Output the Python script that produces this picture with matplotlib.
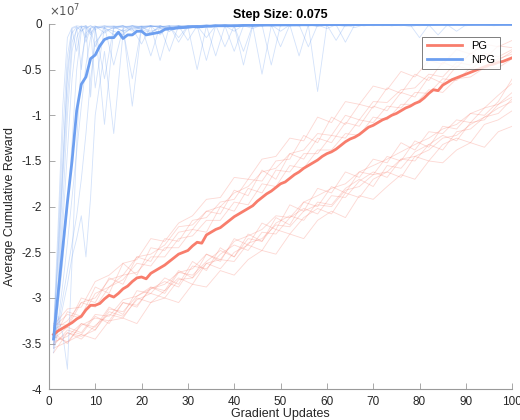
import numpy as np
from matplotlib import pyplot as plt
from matplotlib.ticker import FuncFormatter

plt.rcParams['font.family'] = ['Liberation Sans', 'DejaVu Sans']

# rewards in units of 1e7
updates = np.arange(1, 101)
pg_mean = [-3.40, -3.36, -3.33, -3.30, -3.27, -3.23, -3.20, -3.13, -3.08, -3.08,
           -3.06, -3.01, -2.97, -2.99, -2.95, -2.90, -2.87, -2.82, -2.78, -2.77,
           -2.79, -2.73, -2.70, -2.67, -2.64, -2.60, -2.56, -2.52, -2.50, -2.48,
           -2.43, -2.39, -2.40, -2.31, -2.28, -2.25, -2.23, -2.19, -2.15, -2.11,
           -2.08, -2.05, -2.02, -1.99, -1.94, -1.90, -1.86, -1.83, -1.79, -1.75,
           -1.73, -1.69, -1.65, -1.62, -1.58, -1.55, -1.52, -1.49, -1.45, -1.42,
           -1.40, -1.37, -1.33, -1.29, -1.26, -1.24, -1.21, -1.17, -1.13, -1.11,
           -1.08, -1.05, -1.03, -1.00, -0.98, -0.95, -0.92, -0.90, -0.87, -0.85,
           -0.81, -0.76, -0.72, -0.73, -0.67, -0.64, -0.61, -0.59, -0.57, -0.55,
           -0.53, -0.51, -0.49, -0.47, -0.45, -0.44, -0.42, -0.41, -0.39, -0.37]
npg_mean = [-3.45, -2.95, -2.45, -1.95, -1.50, -0.95, -0.66, -0.58, -0.38, -0.34,
            -0.24, -0.17, -0.15, -0.15, -0.09, -0.16, -0.12, -0.12, -0.08, -0.08,
            -0.12, -0.11, -0.10, -0.09, -0.06, -0.05, -0.05, -0.04, -0.04, -0.035,
            -0.03, -0.03, -0.03, -0.025, -0.025, -0.02, -0.02, -0.02, -0.02, -0.02,
            -0.018, -0.016, -0.015, -0.015, -0.014, -0.013, -0.012, -0.012, -0.011, -0.01,
            -0.01, -0.01, -0.01, -0.009, -0.009, -0.009, -0.008, -0.008, -0.008, -0.008,
            -0.007, -0.007, -0.007, -0.007, -0.006, -0.006, -0.006, -0.006, -0.005, -0.005,
            -0.005, -0.005, -0.005, -0.005, -0.005, -0.004, -0.004, -0.004, -0.004, -0.004,
            -0.004, -0.004, -0.004, -0.004, -0.003, -0.003, -0.003, -0.003, -0.003, -0.003,
            -0.003, -0.003, -0.003, -0.003, -0.003, -0.003, -0.003, -0.003, -0.003, -0.003]

# individual PG runs, recorded every 3 updates
pg_x = np.arange(1, 101, 3)
pg_runs = [
    [-3.30, -3.12, -3.10, -2.82, -2.75, -2.62, -2.58, -2.35, -2.38, -2.18, -2.10, -1.92, -1.90, -1.68, -1.70, -1.48, -1.45,
     -1.25, -1.28, -1.02, -1.08, -0.85, -0.88, -0.68, -0.72, -0.52, -0.58, -0.40, -0.44, -0.28, -0.33, -0.22, -0.25, -0.18],
    [-3.35, -3.25, -3.05, -3.00, -2.80, -2.75, -2.55, -2.60, -2.35, -2.38, -2.15, -2.12, -1.95, -1.92, -1.70, -1.72, -1.50,
     -1.48, -1.22, -1.30, -1.02, -1.10, -0.88, -0.92, -0.70, -0.76, -0.55, -0.62, -0.42, -0.48, -0.32, -0.38, -0.24, -0.26],
    [-3.28, -3.30, -3.00, -3.05, -2.78, -2.85, -2.55, -2.52, -2.42, -2.22, -2.20, -2.05, -2.00, -1.85, -1.78, -1.62, -1.58,
     -1.42, -1.38, -1.20, -1.22, -1.00, -1.05, -0.85, -0.86, -0.72, -0.70, -0.55, -0.58, -0.42, -0.45, -0.32, -0.36, -0.28],
    [-3.45, -3.15, -3.20, -2.88, -2.95, -2.62, -2.75, -2.45, -2.48, -2.28, -2.25, -2.05, -2.08, -1.82, -1.88, -1.60, -1.70,
     -1.42, -1.48, -1.25, -1.30, -1.08, -1.12, -0.90, -0.95, -0.75, -0.80, -0.58, -0.65, -0.46, -0.50, -0.38, -0.40, -0.30],
    [-3.38, -3.32, -3.05, -3.10, -2.88, -2.80, -2.62, -2.65, -2.45, -2.45, -2.25, -2.28, -2.00, -2.05, -1.80, -1.85, -1.60,
     -1.62, -1.42, -1.42, -1.22, -1.25, -1.05, -1.08, -0.90, -0.92, -0.75, -0.76, -0.60, -0.62, -0.48, -0.50, -0.38, -0.33],
    [-3.32, -3.18, -3.22, -2.95, -2.88, -2.75, -2.72, -2.55, -2.55, -2.35, -2.32, -2.15, -2.15, -1.95, -1.98, -1.75, -1.78,
     -1.55, -1.58, -1.38, -1.38, -1.20, -1.22, -1.02, -1.05, -0.88, -0.88, -0.72, -0.75, -0.60, -0.58, -0.48, -0.48, -0.38],
    [-3.55, -3.48, -3.40, -3.45, -3.25, -3.22, -3.28, -3.05, -3.00, -3.05, -2.85, -2.88, -2.70, -2.75, -2.58, -2.48, -2.52,
     -2.30, -2.35, -2.15, -2.05, -2.12, -1.88, -1.92, -1.78, -1.65, -1.70, -1.50, -1.52, -1.38, -1.30, -1.35, -1.18, -1.12],
    [-3.50, -3.38, -3.45, -3.30, -3.18, -3.22, -3.00, -3.05, -2.92, -2.78, -2.85, -2.62, -2.68, -2.50, -2.42, -2.48, -2.25,
     -2.30, -2.12, -2.02, -2.08, -1.85, -1.90, -1.70, -1.62, -1.68, -1.45, -1.50, -1.32, -1.25, -1.30, -1.10, -1.05, -0.95],
    [-3.48, -3.42, -3.28, -3.35, -3.12, -3.15, -2.98, -2.88, -2.95, -2.72, -2.75, -2.60, -2.48, -2.55, -2.35, -2.38, -2.18,
     -2.10, -2.15, -1.95, -1.98, -1.80, -1.70, -1.78, -1.55, -1.58, -1.40, -1.32, -1.38, -1.18, -1.15, -1.02, -0.92, -0.85],
    [-3.42, -3.48, -3.30, -3.22, -3.25, -3.05, -3.08, -2.90, -2.82, -2.88, -2.65, -2.68, -2.52, -2.42, -2.48, -2.28, -2.30,
     -2.12, -2.02, -2.08, -1.88, -1.90, -1.72, -1.62, -1.68, -1.48, -1.50, -1.32, -1.22, -1.28, -1.08, -1.05, -0.88, -0.75],
    [-3.60, -3.38, -3.42, -3.35, -3.15, -3.20, -3.02, -2.95, -3.00, -2.80, -2.78, -2.62, -2.58, -2.60, -2.40, -2.35, -2.20,
     -2.22, -2.05, -1.98, -2.00, -1.82, -1.78, -1.65, -1.62, -1.48, -1.45, -1.38, -1.25, -1.22, -1.10, -1.02, -0.98, -0.82],
    [-3.45, -3.32, -3.38, -3.18, -3.20, -3.02, -2.98, -2.90, -2.85, -2.72, -2.68, -2.52, -2.58, -2.38, -2.32, -2.25, -2.10,
     -2.12, -1.95, -1.88, -1.80, -1.75, -1.62, -1.55, -1.48, -1.40, -1.32, -1.25, -1.15, -1.10, -0.98, -0.92, -0.78, -0.65],
    [-3.52, -3.35, -3.40, -3.20, -3.28, -3.05, -3.10, -2.88, -2.92, -2.70, -2.78, -2.52, -2.60, -2.35, -2.42, -2.18, -2.25,
     -1.98, -2.05, -1.80, -1.85, -1.62, -1.68, -1.48, -1.52, -1.30, -1.38, -1.18, -1.20, -1.05, -1.08, -0.92, -0.88, -0.80],
    [-3.38, -3.50, -3.28, -3.32, -3.10, -3.18, -2.92, -2.95, -2.78, -2.85, -2.60, -2.70, -2.45, -2.55, -2.30, -2.38, -2.12,
     -2.20, -1.95, -2.00, -1.78, -1.85, -1.62, -1.65, -1.45, -1.50, -1.28, -1.35, -1.12, -1.15, -0.98, -1.00, -0.85, -0.60],
]

# individual NPG runs: every update up to 10, then every 2 updates
npg_x = list(range(1, 11)) + list(range(12, 101, 2))
npg_runs = [
    [-3.45, -2.40, -1.20, -0.35, -0.05, -0.03, -0.08, -0.02, -0.10, -0.03,
     -0.05, -0.08, -0.12, -0.03, -0.06, -0.10, -0.02, -0.05, -0.04, -0.02,
     -0.02, -0.01, -0.03, -0.01, -0.02, -0.30, -0.01, -0.02, -0.01, -0.01,
     -0.01, -0.02, -0.01, -0.01, -0.05, -0.01, -0.01, -0.01, -0.02, -0.01,
     -0.01, -0.01, -0.01, -0.03, -0.01, -0.01, -0.01, -0.01, -0.01, -0.01,
     -0.01, -0.01, -0.02, -0.01, -0.01],
    [-3.50, -2.80, -1.70, -0.80, -0.20, -0.06, -0.03, -0.15, -0.04, -0.02,
     -0.10, -0.03, -0.08, -0.05, -0.22, -0.02, -0.04, -0.08, -0.03, -0.02,
     -0.05, -0.02, -0.01, -0.02, -0.08, -0.01, -0.02, -0.01, -0.45, -0.01,
     -0.02, -0.01, -0.02, -0.01, -0.01, -0.01, -0.03, -0.01, -0.01, -0.01,
     -0.01, -0.02, -0.01, -0.01, -0.01, -0.01, -0.12, -0.01, -0.01, -0.01,
     -0.01, -0.01, -0.01, -0.01, -0.01],
    [-3.40, -3.00, -2.20, -1.40, -0.60, -0.15, -0.04, -0.02, -0.06, -0.25,
     -0.03, -0.45, -0.05, -0.02, -0.03, -0.10, -0.03, -0.02, -0.15, -0.02,
     -0.03, -0.02, -0.01, -0.25, -0.02, -0.01, -0.03, -0.01, -0.02, -0.01,
     -0.01, -0.02, -0.01, -0.02, -0.01, -0.18, -0.01, -0.01, -0.01, -0.02,
     -0.01, -0.01, -0.01, -0.01, -0.02, -0.01, -0.01, -0.01, -0.01, -0.01,
     -0.01, -0.01, -0.01, -0.01, -0.01],
    [-3.55, -3.20, -3.40, -3.78, -2.60, -1.30, -0.40, -0.10, -0.05, -0.03,
     -0.04, -0.12, -0.06, -0.60, -0.03, -0.08, -0.05, -0.03, -0.06, -0.04,
     -0.02, -0.15, -0.02, -0.01, -0.03, -0.02, -0.01, -0.02, -0.01, -0.08,
     -0.01, -0.01, -0.02, -0.01, -0.01, -0.01, -0.01, -0.04, -0.01, -0.01,
     -0.01, -0.01, -0.02, -0.01, -0.01, -0.01, -0.01, -0.01, -0.01, -0.01,
     -0.01, -0.01, -0.01, -0.01, -0.01],
    [-3.45, -3.30, -3.00, -2.70, -2.40, -2.10, -1.70, -1.20, -0.60, -0.20,
     -0.08, -0.04, -0.02, -0.06, -0.03, -0.35, -0.02, -0.04, -0.02, -0.03,
     -0.02, -0.03, -0.02, -0.02, -0.01, -0.02, -0.05, -0.01, -0.01, -0.02,
     -0.02, -0.01, -0.01, -0.03, -0.01, -0.01, -0.01, -0.01, -0.01, -0.01,
     -0.01, -0.01, -0.01, -0.01, -0.01, -0.02, -0.01, -0.01, -0.01, -0.01,
     -0.01, -0.01, -0.01, -0.01, -0.01],
    [-3.60, -3.35, -3.10, -2.85, -2.55, -2.35, -2.10, -2.55, -1.90, -1.00,
     -0.30, -1.20, -0.10, -0.05, -0.03, -0.02, -0.40, -0.03, -0.02, -0.05,
     -0.03, -0.02, -0.02, -0.03, -0.02, -0.01, -0.02, -0.55, -0.02, -0.01,
     -0.02, -0.02, -0.01, -0.01, -0.02, -0.01, -0.01, -0.01, -0.02, -0.01,
     -0.01, -0.02, -0.01, -0.01, -0.01, -0.01, -0.01, -0.01, -0.01, -0.01,
     -0.01, -0.01, -0.01, -0.01, -0.01],
    [-3.40, -2.50, -1.50, -0.60, -0.10, -0.03, -0.50, -0.05, -0.02, -0.04,
     -1.10, -0.05, -0.03, -0.02, -0.06, -0.02, -0.03, -0.30, -0.02, -0.02,
     -0.02, -0.02, -0.35, -0.02, -0.01, -0.02, -0.01, -0.02, -0.01, -0.01,
     -0.02, -0.01, -0.01, -0.02, -0.01, -0.01, -0.01, -0.01, -0.01, -0.01,
     -0.02, -0.01, -0.01, -0.01, -0.01, -0.01, -0.01, -0.02, -0.01, -0.01,
     -0.01, -0.01, -0.01, -0.01, -0.01],
    [-3.35, -2.20, -0.90, -0.15, -0.04, -0.02, -0.03, -0.20, -0.05, -0.70,
     -0.04, -0.03, -0.02, -0.08, -0.03, -0.02, -0.12, -0.02, -0.03, -0.02,
     -0.02, -0.40, -0.02, -0.01, -0.02, -0.01, -0.02, -0.01, -0.01, -0.25,
     -0.01, -0.01, -0.25, -0.01, -0.01, -0.01, -0.02, -0.01, -0.01, -0.01,
     -0.01, -0.01, -0.01, -0.01, -0.01, -0.01, -0.01, -0.01, -0.08, -0.01,
     -0.01, -0.01, -0.01, -0.01, -0.01],
    [-3.50, -3.10, -2.60, -2.00, -1.30, -0.50, -0.08, -0.04, -0.12, -0.03,
     -0.02, -0.05, -0.02, -0.90, -0.04, -0.03, -0.02, -0.05, -0.02, -0.18,
     -0.02, -0.01, -0.02, -0.02, -0.30, -0.02, -0.01, -0.02, -0.01, -0.02,
     -0.01, -0.35, -0.01, -0.02, -0.01, -0.01, -0.01, -0.02, -0.01, -0.01,
     -0.01, -0.01, -0.01, -0.01, -0.15, -0.01, -0.01, -0.01, -0.01, -0.02,
     -0.01, -0.01, -0.01, -0.01, -0.01],
    [-3.45, -2.90, -2.00, -1.00, -0.30, -0.05, -0.02, -0.04, -0.02, -0.06,
     -0.02, -0.03, -0.08, -0.02, -0.03, -0.02, -0.04, -0.02, -0.20, -0.03,
     -0.50, -0.02, -0.01, -0.02, -0.01, -0.02, -0.01, -0.01, -0.02, -0.01,
     -0.01, -0.01, -0.01, -0.74, -0.01, -0.01, -0.01, -0.01, -0.01, -0.01,
     -0.01, -0.01, -0.01, -0.01, -0.01, -0.01, -0.01, -0.01, -0.01, -0.01,
     -0.01, -0.01, -0.01, -0.01, -0.01],
    [-3.55, -3.25, -2.85, -2.40, -1.90, -1.40, -0.90, -0.45, -0.15, -0.05,
     -0.60, -0.03, -0.02, -0.04, -0.02, -0.03, -0.02, -0.08, -0.03, -0.02,
     -0.02, -0.02, -0.02, -0.01, -0.02, -0.45, -0.02, -0.01, -0.01, -0.02,
     -0.01, -0.02, -0.01, -0.01, -0.01, -0.02, -0.01, -0.01, -0.01, -0.01,
     -0.01, -0.01, -0.01, -0.01, -0.01, -0.01, -0.01, -0.01, -0.01, -0.01,
     -0.01, -0.01, -0.01, -0.01, -0.01],
    [-3.40, -2.60, -1.60, -0.50, -0.06, -0.30, -0.03, -0.02, -0.80, -0.04,
     -0.03, -0.02, -0.04, -0.02, -0.05, -0.02, -0.03, -0.02, -0.02, -0.04,
     -0.02, -0.03, -0.02, -0.01, -0.02, -0.01, -0.02, -0.01, -0.01, -0.01,
     -0.01, -0.01, -0.01, -0.02, -0.01, -0.01, -0.20, -0.01, -0.01, -0.01,
     -0.01, -0.01, -0.01, -0.01, -0.01, -0.02, -0.01, -0.01, -0.01, -0.01,
     -0.01, -0.01, -0.01, -0.01, -0.01],
]

pg_color = '#F87D6C'
npg_color = '#6D9FF0'
axis_gray = '#9A9A9A'
text_col = '#262626'

fig = plt.figure(figsize=(5.2, 4.2), dpi=100)
ax = fig.add_axes([0.094, 0.073, 0.891, 0.870])

for run in pg_runs:
    ax.plot(pg_x, run, color=pg_color, alpha=0.3, lw=0.6)
for run in npg_runs:
    ax.plot(npg_x, run, color=npg_color, alpha=0.3, lw=0.6)
ax.plot(updates, pg_mean, color=pg_color, lw=2, label='PG')
ax.plot(updates, npg_mean, color=npg_color, lw=2, label='NPG')

ax.set_xlim(0, 100)
ax.set_ylim(-4, 0)
ax.set_xticks(np.arange(0, 101, 10))
ax.set_yticks(np.arange(-4, 0.01, 0.5))
ax.yaxis.set_major_formatter(FuncFormatter(lambda v, p: '%g' % v))

for s in ['top', 'right']:
    ax.spines[s].set_visible(False)
for s in ['left', 'bottom']:
    ax.spines[s].set_color(axis_gray)
    ax.spines[s].set_linewidth(0.8)
ax.tick_params(direction='in', length=4, width=0.6, color=axis_gray,
               labelcolor=text_col, labelsize=8.5, pad=5)

ax.set_xlabel('Gradient Updates', fontsize=9, color=text_col, labelpad=0)
ax.set_ylabel('Average Cumulative Reward', fontsize=9, color=text_col, labelpad=4)
ax.set_title('Step Size: 0.075', fontsize=9, fontweight='bold', color='black', pad=4)
ax.text(0.0, 1.012, r'$\times 10^{7}$', transform=ax.transAxes, fontsize=8.5,
        color='#555555', ha='left', va='bottom')

leg = ax.legend(loc='upper right', bbox_to_anchor=(0.985, 0.98), fontsize=8,
                fancybox=False, handlelength=3.2, borderpad=0.4, labelspacing=0.3)
leg.get_frame().set_edgecolor('#444444')
leg.get_frame().set_linewidth(0.6)

plt.savefig('out.png', dpi=100)
